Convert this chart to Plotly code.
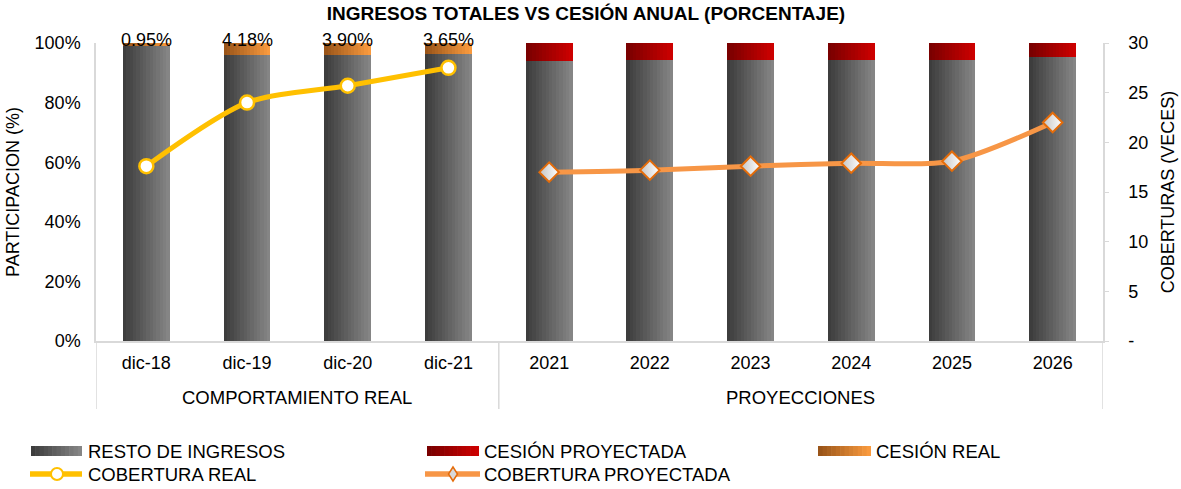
import plotly.graph_objects as go

# ---------------- data ----------------
title_text = "INGRESOS TOTALES VS CESIÓN ANUAL (PORCENTAJE)"
groups = ["COMPORTAMIENTO REAL"] * 4 + ["PROYECCIONES"] * 6
periods = ["dic-18", "dic-19", "dic-20", "dic-21", "2021", "2022", "2023", "2024", "2025", "2026"]
cesion_real = [0.95, 4.18, 3.90, 3.65, None, None, None, None, None, None]
cesion_proy = [None, None, None, None, 5.90, 5.81, 5.72, 5.63, 5.54, 4.55]
cobertura_real = [17.6, 24.0, 25.7, 27.5, None, None, None, None, None, None]
cobertura_proy = [None, None, None, None, 17.0, 17.2, 17.6, 17.9, 18.1, 22.0]
left_ticks = [0, 20, 40, 60, 80, 100]
left_ticktext = ["0%", "20%", "40%", "60%", "80%", "100%"]
right_ticks = [0, 5, 10, 15, 20, 25, 30]
right_ticktext = ["-", "5", "10", "15", "20", "25", "30"]

cesion = [r if r is not None else p for r, p in zip(cesion_real, cesion_proy)]
resto = [100 - c for c in cesion]
cesion_labels = [f"{c:.2f}%" for c in cesion]
totals = [r + c for r, c in zip(resto, cesion)]

# ---------------- styling ----------------
FONT = "Liberation Sans"
W, H = 1181, 489
ML, MR, MT, MB = 96, 78, 43, 148
PW, PH = W - ML - MR, H - MT - MB
BW = 0.465
NSTRIP = 14
GRAY = ("#3d3d3d", "#858585")
ORANGE = ("#9a5519", "#f99a3e")
RED = ("#7a0000", "#cc0000")
GOLD = "#FFC000"
LORANGE = "#F79646"
AXC = "#D9D9D9"
FS = 18
FSL = 18.5


def hex2rgb(h):
    h = h.lstrip("#")
    return tuple(int(h[i:i + 2], 16) for i in (0, 2, 4))


def interp(c0, c1, t):
    a, b = hex2rgb(c0), hex2rgb(c1)
    return "rgb(%d,%d,%d)" % tuple(round(a[k] + (b[k] - a[k]) * t) for k in range(3))


fig = go.Figure()


def gradient_bars(y, base, cols):
    w = BW / NSTRIP
    for i in range(NSTRIP):
        t = i / (NSTRIP - 1)
        fig.add_trace(go.Bar(
            x=periods, y=y, base=base,
            width=w * 1.1 if i < NSTRIP - 1 else w,
            offset=-BW / 2 + i * w,
            marker=dict(color=interp(cols[0], cols[1], t), line_width=0),
            showlegend=False, hoverinfo="skip", yaxis="y"))


gradient_bars(resto, [0] * len(resto), GRAY)
gradient_bars(cesion_real, resto, ORANGE)
gradient_bars(cesion_proy, resto, RED)

# coverage lines
fig.add_trace(go.Scatter(
    x=periods, y=cobertura_real, mode="lines+markers", name="COBERTURA REAL",
    line=dict(color=GOLD, width=5, shape="spline", smoothing=0.8),
    marker=dict(symbol="circle", size=14, color="white", line=dict(color=GOLD, width=2.5)),
    showlegend=False, cliponaxis=False, yaxis="y2"))
fig.add_trace(go.Scatter(
    x=periods, y=cobertura_proy, mode="lines+markers", name="COBERTURA PROYECTADA",
    line=dict(color=LORANGE, width=5, shape="spline", smoothing=0.8),
    marker=dict(symbol="diamond", size=15, color="#c4c4c4",
                gradient=dict(type="horizontal", color="white"),
                line=dict(color="#E46C0A", width=2)),
    showlegend=False, cliponaxis=False, yaxis="y2"))


def px(xp):
    return (xp - ML) / PW


def py(yp):
    return (H - MB - yp) / PH


shapes = []
annotations = []

# labels on top of bars
for p, tot, lab in zip(periods, totals, cesion_labels):
    annotations.append(dict(x=p, y=tot, xref="x", yref="y", text=lab, showarrow=False,
                            xanchor="center", yanchor="middle", yshift=3,
                            font=dict(family=FONT, size=FS, color="#000")))

# group labels and dividers (second level of the category axis)
bounds = [-0.5]
for i in range(1, len(groups)):
    if groups[i] != groups[i - 1]:
        bounds.append(i - 0.5)
bounds.append(len(groups) - 0.5)
for b in bounds:
    shapes.append(dict(type="line", xref="x", yref="paper", x0=b, x1=b, y0=0, y1=py(409),
                       line=dict(color=AXC, width=1.5)))
for a, b in zip(bounds[:-1], bounds[1:]):
    annotations.append(dict(x=(a + b) / 2, xref="x", y=py(397), yref="paper",
                            text=groups[int(a + 0.5)], showarrow=False,
                            xanchor="center", yanchor="middle",
                            font=dict(family=FONT, size=FSL, color="#000")))


# ---------------- manual legend ----------------
def legend_box(x0, x1, yc, cols, h=10):
    n = 12
    w = (x1 - x0) / n
    for i in range(n):
        shapes.append(dict(type="rect", xref="paper", yref="paper",
                           x0=px(x0 + i * w), x1=px(x0 + (i + 1) * w + (0.6 if i < n - 1 else 0)),
                           y0=py(yc + h / 2), y1=py(yc - h / 2),
                           fillcolor=interp(cols[0], cols[1], i / (n - 1)), line_width=0, layer="above"))


def legend_text(x0, yc, text):
    annotations.append(dict(xref="paper", yref="paper", x=px(x0), y=py(yc), text=text,
                            showarrow=False, xanchor="left", yanchor="middle",
                            font=dict(family=FONT, size=FSL, color="#000")))


r1, r2 = 451, 474
legend_box(31, 82, r1, GRAY); legend_text(86, r1, "RESTO DE INGRESOS")
legend_box(427, 479, r1, RED); legend_text(482, r1, "CESIÓN PROYECTADA")
legend_box(818, 871, r1, ORANGE); legend_text(874, r1, "CESIÓN REAL")

shapes.append(dict(type="line", xref="paper", yref="paper", x0=px(30), x1=px(82), y0=py(r2), y1=py(r2),
                   line=dict(color=GOLD, width=5.5)))
shapes.append(dict(type="circle", xref="paper", yref="paper", x0=px(51), x1=px(63), y0=py(r2 + 6), y1=py(r2 - 6),
                   fillcolor="white", line=dict(color=GOLD, width=2)))
legend_text(86, r2, "COBERTURA REAL")
shapes.append(dict(type="line", xref="paper", yref="paper", x0=px(425), x1=px(480), y0=py(r2), y1=py(r2),
                   line=dict(color=LORANGE, width=5.5)))
shapes.append(dict(type="path", xref="paper", yref="paper",
                   path="M %f,%f L %f,%f L %f,%f L %f,%f Z" % (px(453), py(r2 - 7), px(457.5), py(r2),
                                                              px(453), py(r2 + 7), px(448.5), py(r2)),
                   fillcolor="#d9d9d9", line=dict(color="#E46C0A", width=1.5)))
legend_text(482, r2, "COBERTURA PROYECTADA")

fig.update_layout(
    width=W, height=H,
    margin=dict(l=ML, r=MR, t=MT, b=MB, autoexpand=False),
    paper_bgcolor="white", plot_bgcolor="white",
    barmode="overlay", bargap=0,
    font=dict(family=FONT, size=FS, color="#000"),
    title=dict(text="<b>" + title_text + "</b>", x=586 / W, xanchor="center", y=1 - 13 / H, yanchor="middle",
               xref="container", yref="container",
               font=dict(family=FONT, size=19, color="#000")),
    xaxis=dict(type="category", range=[-0.5, len(periods) - 0.5], showline=True, linecolor=AXC, linewidth=1.5,
               ticks="", showgrid=False, automargin=False, ticklabelstandoff=5,
               tickfont=dict(family=FONT, size=FS, color="#000")),
    yaxis=dict(range=[0, 100], tickvals=left_ticks, ticktext=left_ticktext, showgrid=False, zeroline=False,
               showline=True, linecolor=AXC, linewidth=1.5, ticks="", ticklabelstandoff=10, automargin=False,
               title=dict(text="PARTICIPACION (%)", standoff=10, font=dict(family=FONT, size=FS)),
               tickfont=dict(family=FONT, size=FS)),
    yaxis2=dict(range=[0, 30], tickvals=right_ticks, ticktext=right_ticktext, overlaying="y", side="right",
                showgrid=False, zeroline=False, showline=True, linecolor=AXC, linewidth=1.5,
                ticks="outside", ticklen=4, tickcolor=AXC, ticklabelstandoff=16, automargin=False,
                title=dict(text="COBERTURAS (VECES)", standoff=14, font=dict(family=FONT, size=FS)),
                tickfont=dict(family=FONT, size=FS)),
    shapes=shapes, annotations=annotations,
)

# remove the browser's default 8px page margin so the figure fills the window
fig.write_html("out.html", config={"displayModeBar": False},
               post_script="document.body.style.margin='0';document.body.style.overflow='hidden';")
